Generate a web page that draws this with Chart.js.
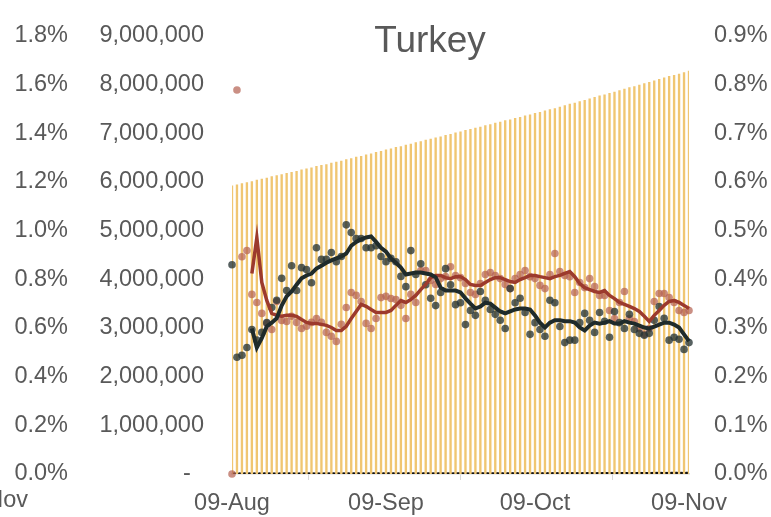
<!DOCTYPE html>
<html>
<head>
<meta charset="utf-8">
<script src="https://cdn.jsdelivr.net/npm/chart.js@4/dist/chart.umd.min.js"></script>
<style>
  html, body { margin: 0; padding: 0; background: #fff; }
  #wrap { width: 771px; height: 517px; position: relative; }
</style>
</head>
<body>
<div id="wrap"><canvas id="chart"></canvas></div>
<script>
// Turkey: cumulative tests (bars), daily tests, and two daily ratios with 7-day averages
const startDate = new Date(2020, 7, 9);
const dayCount = 93;
const tickDays = [0, 31, 61, 92];

const cumulativeTests = [
    5920000, 5940000, 5970000, 5990000, 6010000, 6040000, 6060000, 6080000, 6110000, 6130000,
    6150000, 6180000, 6200000, 6220000, 6250000, 6270000, 6290000, 6320000, 6340000, 6360000,
    6390000, 6410000, 6430000, 6460000, 6480000, 6510000, 6530000, 6560000, 6580000, 6610000,
    6630000, 6660000, 6680000, 6710000, 6730000, 6760000, 6780000, 6810000, 6830000, 6860000,
    6880000, 6910000, 6930000, 6960000, 6980000, 7010000, 7030000, 7060000, 7080000, 7110000,
    7130000, 7160000, 7180000, 7210000, 7230000, 7260000, 7280000, 7310000, 7330000, 7360000,
    7380000, 7410000, 7430000, 7460000, 7490000, 7510000, 7540000, 7570000, 7600000, 7620000,
    7650000, 7680000, 7710000, 7740000, 7770000, 7790000, 7820000, 7850000, 7880000, 7910000,
    7940000, 7960000, 7990000, 8020000, 8050000, 8080000, 8110000, 8140000, 8170000, 8190000,
    8220000, 8250000, 8280000
];

const dailyTests = [
    24000, 22000, 25000, 26000, 24000, 23000, 25000, 26000, 24000, 22000,
    25000, 26000, 25000, 23000, 24000, 26000, 25000, 24000, 23000, 25000,
    26000, 25000, 24000, 26000, 25000, 27000, 25000, 24000, 26000, 27000,
    25000, 26000, 27000, 25000, 24000, 26000, 27000, 26000, 25000, 27000,
    26000, 25000, 27000, 26000, 25000, 27000, 28000, 26000, 25000, 27000,
    28000, 27000, 26000, 28000, 27000, 26000, 28000, 29000, 27000, 26000,
    28000, 29000, 28000, 27000, 29000, 30000, 28000, 29000, 31000, 30000,
    29000, 31000, 32000, 30000, 31000, 33000, 32000, 31000, 33000, 34000,
    32000, 33000, 35000, 34000, 33000, 36000, 37000, 35000, 36000, 38000,
    37000, 36000, 39000
];

// left percent axis
const redDaily = [
    0, 1.578, 0.893, 0.918, 0.738, 0.705, 0.660, 0.619, 0.594, 0.709,
    0.631, 0.627, 0.648, 0.623, 0.598, 0.607, 0.623, 0.639, 0.623, 0.582,
    0.566, 0.545, 0.615, 0.684, 0.746, 0.734, 0.709, 0.619, 0.598, 0.639,
    0.725, 0.730, 0.721, 0.717, 0.693, 0.639, 0.738, 0.705, 0.836, 0.836,
    0.795, 0.779, 0.803, 0.811, 0.852, 0.816, 0.807, 0.783, 0.746, 0.738,
    0.783, 0.820, 0.828, 0.816, 0.803, 0.779, 0.762, 0.803, 0.820, 0.836,
    0.811, 0.803, 0.775, 0.762, 0.820, 0.906, 0.832, 0.816, 0.811, 0.746,
    0.787, 0.766, 0.803, 0.770, 0.734, 0.734, 0.672, 0.639, 0.705, 0.750,
    0.639, 0.627, 0.598, 0.574, 0.598, 0.709, 0.742, 0.742, 0.725, 0.705,
    0.672, 0.664, 0.672
];

const redAverage = [
    null, null, null, null, 0.824, 0.971, 0.787, 0.713, 0.660, 0.652,
    0.648, 0.652, 0.652, 0.648, 0.635, 0.623, 0.619, 0.619, 0.615, 0.611,
    0.602, 0.590, 0.590, 0.607, 0.639, 0.668, 0.697, 0.689, 0.676, 0.664,
    0.664, 0.664, 0.672, 0.693, 0.713, 0.705, 0.717, 0.734, 0.758, 0.779,
    0.807, 0.816, 0.816, 0.807, 0.803, 0.811, 0.811, 0.799, 0.779, 0.775,
    0.775, 0.787, 0.799, 0.807, 0.807, 0.799, 0.791, 0.787, 0.799, 0.807,
    0.816, 0.816, 0.811, 0.807, 0.803, 0.811, 0.816, 0.824, 0.832, 0.811,
    0.783, 0.766, 0.758, 0.750, 0.746, 0.754, 0.734, 0.721, 0.705, 0.697,
    0.689, 0.680, 0.668, 0.648, 0.627, 0.652, 0.672, 0.693, 0.709, 0.713,
    0.705, 0.693, 0.680
];

// right percent axis
const darkDaily = [
    0.430, 0.240, 0.244, 0.260, 0.297, 0.275, 0.291, 0.311, 0.342, 0.357,
    0.402, 0.377, 0.428, 0.377, 0.424, 0.420, 0.393, 0.465, 0.441, 0.441,
    0.455, 0.436, 0.447, 0.512, 0.496, 0.484, 0.484, 0.465, 0.465, 0.469,
    0.447, 0.436, 0.443, 0.436, 0.406, 0.385, 0.459, 0.410, 0.432, 0.389,
    0.361, 0.346, 0.373, 0.422, 0.389, 0.348, 0.352, 0.307, 0.336, 0.326,
    0.375, 0.357, 0.338, 0.328, 0.316, 0.299, 0.381, 0.352, 0.361, 0.332,
    0.287, 0.311, 0.297, 0.283, 0.357, 0.352, 0.303, 0.270, 0.275, 0.275,
    0.311, 0.330, 0.316, 0.291, 0.332, 0.314, 0.281, 0.334, 0.311, 0.299,
    0.328, 0.297, 0.289, 0.285, 0.289, 0.316, 0.344, 0.320, 0.275, 0.281,
    0.277, 0.256, 0.270
];

const darkAverage = [
    null, null, null, null, 0.299, 0.260, 0.279, 0.303, 0.311, 0.320,
    0.346, 0.365, 0.375, 0.389, 0.402, 0.408, 0.412, 0.422, 0.428, 0.434,
    0.439, 0.443, 0.447, 0.453, 0.469, 0.477, 0.482, 0.486, 0.488, 0.477,
    0.465, 0.457, 0.443, 0.434, 0.424, 0.410, 0.412, 0.414, 0.414, 0.412,
    0.410, 0.404, 0.383, 0.377, 0.377, 0.377, 0.373, 0.361, 0.350, 0.340,
    0.344, 0.352, 0.350, 0.342, 0.334, 0.330, 0.334, 0.338, 0.340, 0.340,
    0.338, 0.326, 0.311, 0.301, 0.311, 0.316, 0.316, 0.314, 0.314, 0.311,
    0.301, 0.295, 0.305, 0.311, 0.309, 0.311, 0.314, 0.309, 0.309, 0.314,
    0.311, 0.309, 0.305, 0.301, 0.299, 0.303, 0.307, 0.311, 0.311, 0.307,
    0.301, 0.287, 0.273
];

const FONT = '"Liberation Sans", Arial, sans-serif';
const TEXT = '#595959';

// Build date labels like 09-Aug
const months = ['Jan','Feb','Mar','Apr','May','Jun','Jul','Aug','Sep','Oct','Nov','Dec'];
const labels = [];
for (let i = 0; i < dayCount; i++) {
    const d = new Date(startDate);
    d.setDate(d.getDate() + i);
    labels.push(String(d.getDate()).padStart(2, '0') + '-' + months[d.getMonth()]);
}

// Title and the clipped label at the far left
const overlayText = {
    id: 'overlayText',
    afterDraw(chart) {
        const ctx = chart.ctx;
        ctx.save();
        ctx.fillStyle = TEXT;
        ctx.font = '37px ' + FONT;
        ctx.textAlign = 'center';
        ctx.textBaseline = 'middle';
        ctx.fillText('Turkey', 430, 42);
        ctx.font = '23.5px ' + FONT;
        ctx.textAlign = 'right';
        ctx.fillText('09-Nov', 28, 501);
        ctx.restore();
    }
};

// fixed axis width, no extra padding for overflowing end labels
function fixWidth(w) {
    return function(axis) {
        axis.width = w;
        axis.paddingTop = 0;
        axis.paddingBottom = 0;
    };
}

new Chart(document.getElementById('chart'), {
    type: 'bar',
    data: {
        labels: labels,
        datasets: [
            {
                type: 'line',
                label: 'Dark 7-day',
                data: darkAverage,
                yAxisID: 'yR',
                borderColor: '#1f2b2b',
                borderWidth: 4,
                pointRadius: 0,
                tension: 0,
                order: 1
            },
            {
                type: 'line',
                label: 'Red 7-day',
                data: redAverage,
                yAxisID: 'yL',
                borderColor: '#9c3a2d',
                borderWidth: 3.5,
                pointRadius: 0,
                tension: 0,
                order: 2
            },
            {
                type: 'line',
                label: 'Dark daily',
                data: darkDaily,
                yAxisID: 'yR',
                showLine: false,
                pointRadius: 3.8,
                pointBorderWidth: 0,
                pointBackgroundColor: 'rgba(40,52,52,0.78)',
                clip: false,
                order: 3
            },
            {
                type: 'line',
                label: 'Red daily',
                data: redDaily,
                yAxisID: 'yL',
                showLine: false,
                pointRadius: 3.8,
                pointBorderWidth: 0,
                pointBackgroundColor: 'rgba(180,96,80,0.7)',
                clip: false,
                order: 4
            },
            {
                label: 'Cumulative tests',
                data: cumulativeTests,
                yAxisID: 'yM',
                backgroundColor: '#f0c672',
                barThickness: 1.7,
                grouped: false,
                order: 10
            },
            {
                label: 'Daily tests',
                data: dailyTests,
                yAxisID: 'yM',
                backgroundColor: '#111111',
                barThickness: 5,
                grouped: false,
                order: 11
            }
        ]
    },
    options: {
        responsive: true,
        maintainAspectRatio: false,
        animation: false,
        layout: { padding: { top: 36, left: 0, right: 0, bottom: 0 } },
        plugins: {
            legend: { display: false },
            tooltip: { enabled: false }
        },
        scales: {
            x: {
                offset: false,
                afterFit: function(axis) { axis.height = 43; },
                afterBuildTicks: function(axis) {
                    axis.ticks = axis.ticks.filter(t => tickDays.includes(t.value));
                },
                border: { display: true, color: '#d9d9d9', width: 1.5 },
                grid: { drawOnChartArea: false, drawTicks: true, tickLength: 6, color: '#d9d9d9' },
                ticks: {
                    autoSkip: false,
                    maxRotation: 0,
                    padding: 9,
                    color: TEXT,
                    font: { family: FONT, size: 23.5 }
                }
            },
            yL: {
                position: 'left',
                weight: 10,
                min: 0,
                max: 1.8,
                afterFit: fixWidth(80),
                border: { display: false },
                grid: { display: false, drawTicks: false },
                ticks: {
                    stepSize: 0.2,
                    padding: 12,
                    color: TEXT,
                    font: { family: FONT, size: 23.5 },
                    callback: v => v.toFixed(1) + '%'
                }
            },
            yM: {
                position: 'left',
                weight: 0,
                min: 0,
                max: 9000000,
                afterFit: fixWidth(152),
                border: { display: false },
                grid: { display: false, drawTicks: false },
                ticks: {
                    stepSize: 1000000,
                    padding: 28,
                    color: TEXT,
                    font: { family: FONT, size: 23.5 },
                    callback: v => v === 0 ? '-  ' : v.toLocaleString('en-US')
                }
            },
            yR: {
                position: 'right',
                min: 0,
                max: 0.9,
                afterFit: fixWidth(82),
                border: { display: false },
                grid: { display: false, drawTicks: false },
                ticks: {
                    stepSize: 0.1,
                    padding: 25,
                    color: TEXT,
                    font: { family: FONT, size: 23.5 },
                    callback: v => v.toFixed(1) + '%'
                }
            }
        }
    },
    plugins: [overlayText]
});
</script>
</body>
</html>
